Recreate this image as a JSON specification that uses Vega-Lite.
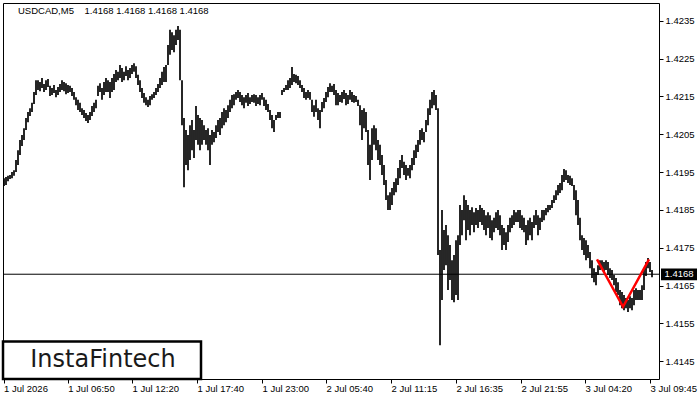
{
  "$schema": "https://vega.github.io/schema/vega-lite/v6.json",
  "width": 656,
  "height": 376,
  "autosize": "none",
  "padding": {"left": 3, "top": 3, "right": 41, "bottom": 21},
  "background": "white",
  "title": {"text": "USDCAD,M5\u00a0\u00a0\u00a0\u00a01.4168 1.4168 1.4168 1.4168", "anchor": "start", "frame": "group", "orient": "top", "offset": -17, "dx": 15, "baseline": "middle", "font": "Liberation Sans", "fontSize": 9.5, "fontWeight": "normal", "color": "#000000"},
  "config": {
    "view": {"stroke": "#000000", "strokeWidth": 1},
    "axis": {"labelFont": "Liberation Sans", "labelFontSize": 9.5, "labelColor": "#000000", "tickColor": "#000000", "domain": false, "grid": false, "title": null}
  },
  "datasets": {
    "bars": [
      {"n":1,"h":1.41934,"l":1.41913},{"n":3,"h":1.41937,"l":1.41916},{"n":5,"h":1.41940,"l":1.41926},{"n":7,"h":1.41942,"l":1.41932},
      {"n":9,"h":1.41950,"l":1.41934},{"n":11,"h":1.41955,"l":1.41940},{"n":13,"h":1.41982,"l":1.41950},{"n":15,"h":1.42008,"l":1.41969},
      {"n":17,"h":1.42035,"l":1.41995},{"n":19,"h":1.42048,"l":1.42019},{"n":21,"h":1.42066,"l":1.42035},{"n":23,"h":1.42093,"l":1.42061},
      {"n":25,"h":1.42109,"l":1.42082},{"n":27,"h":1.42119,"l":1.42098},{"n":29,"h":1.42133,"l":1.42109},{"n":31,"h":1.42162,"l":1.42130},
      {"n":33,"h":1.42193,"l":1.42154},{"n":35,"h":1.42193,"l":1.42167},{"n":37,"h":1.42188,"l":1.42164},{"n":39,"h":1.42199,"l":1.42172},
      {"n":41,"h":1.42183,"l":1.42162},{"n":43,"h":1.42193,"l":1.42167},{"n":45,"h":1.42196,"l":1.42175},{"n":47,"h":1.42178,"l":1.42151},
      {"n":49,"h":1.42172,"l":1.42154},{"n":51,"h":1.42180,"l":1.42159},{"n":53,"h":1.42167,"l":1.42148},{"n":55,"h":1.42175,"l":1.42154},
      {"n":57,"h":1.42183,"l":1.42162},{"n":59,"h":1.42193,"l":1.42167},{"n":61,"h":1.42188,"l":1.42164},{"n":63,"h":1.42185,"l":1.42156},
      {"n":65,"h":1.42180,"l":1.42159},{"n":67,"h":1.42178,"l":1.42162},{"n":69,"h":1.42172,"l":1.42151},{"n":71,"h":1.42162,"l":1.42141},
      {"n":73,"h":1.42148,"l":1.42127},{"n":75,"h":1.42141,"l":1.42114},{"n":77,"h":1.42133,"l":1.42109},{"n":79,"h":1.42119,"l":1.42101},
      {"n":81,"h":1.42114,"l":1.42093},{"n":83,"h":1.42106,"l":1.42085},{"n":85,"h":1.42101,"l":1.42080},{"n":87,"h":1.42109,"l":1.42088},
      {"n":89,"h":1.42125,"l":1.42098},{"n":91,"h":1.42133,"l":1.42109},{"n":93,"h":1.42141,"l":1.42119},{"n":95,"h":1.42178,"l":1.42151},
      {"n":97,"h":1.42185,"l":1.42162},{"n":99,"h":1.42172,"l":1.42141},{"n":101,"h":1.42188,"l":1.42154},{"n":103,"h":1.42199,"l":1.42162},
      {"n":105,"h":1.42193,"l":1.42162},{"n":107,"h":1.42188,"l":1.42146},{"n":109,"h":1.42199,"l":1.42162},{"n":111,"h":1.42209,"l":1.42167},
      {"n":113,"h":1.42220,"l":1.42188},{"n":115,"h":1.42215,"l":1.42193},{"n":117,"h":1.42233,"l":1.42199},{"n":119,"h":1.42225,"l":1.42188},
      {"n":121,"h":1.42215,"l":1.42193},{"n":123,"h":1.42230,"l":1.42204},{"n":125,"h":1.42220,"l":1.42193},{"n":127,"h":1.42225,"l":1.42199},
      {"n":129,"h":1.42233,"l":1.42209},{"n":131,"h":1.42238,"l":1.42215},{"n":133,"h":1.42230,"l":1.42199},{"n":135,"h":1.42207,"l":1.42180},
      {"n":137,"h":1.42193,"l":1.42162},{"n":139,"h":1.42172,"l":1.42146},{"n":141,"h":1.42159,"l":1.42133},{"n":143,"h":1.42148,"l":1.42127},
      {"n":145,"h":1.42141,"l":1.42122},{"n":147,"h":1.42151,"l":1.42127},{"n":149,"h":1.42156,"l":1.42141},{"n":151,"h":1.42162,"l":1.42146},
      {"n":153,"h":1.42172,"l":1.42154},{"n":155,"h":1.42183,"l":1.42162},{"n":157,"h":1.42199,"l":1.42172},{"n":159,"h":1.42215,"l":1.42180},
      {"n":161,"h":1.42228,"l":1.42188},{"n":163,"h":1.42233,"l":1.42188},{"n":165,"h":1.42286,"l":1.42233},{"n":167,"h":1.42326,"l":1.42260},
      {"n":169,"h":1.42320,"l":1.42273},{"n":171,"h":1.42312,"l":1.42267},{"n":173,"h":1.42326,"l":1.42286},{"n":175,"h":1.42336,"l":1.42299},
      {"n":177,"h":1.42326,"l":1.42193},{"n":179,"h":1.42193,"l":1.42074},{"n":181,"h":1.42093,"l":1.41910},{"n":183,"h":1.42061,"l":1.41969},
      {"n":185,"h":1.42048,"l":1.41955},{"n":187,"h":1.42074,"l":1.41982},{"n":189,"h":1.42088,"l":1.42008},{"n":191,"h":1.42061,"l":1.41987},
      {"n":193,"h":1.42125,"l":1.42035},{"n":195,"h":1.42101,"l":1.42022},{"n":197,"h":1.42093,"l":1.42008},{"n":199,"h":1.42088,"l":1.42022},
      {"n":201,"h":1.42074,"l":1.42035},{"n":203,"h":1.42061,"l":1.42022},{"n":205,"h":1.42066,"l":1.42008},{"n":207,"h":1.42048,"l":1.41969},
      {"n":209,"h":1.42061,"l":1.42022},{"n":211,"h":1.42056,"l":1.42029},{"n":213,"h":1.42074,"l":1.42040},{"n":215,"h":1.42088,"l":1.42056},
      {"n":217,"h":1.42093,"l":1.42048},{"n":219,"h":1.42109,"l":1.42066},{"n":221,"h":1.42119,"l":1.42074},{"n":223,"h":1.42114,"l":1.42082},
      {"n":225,"h":1.42127,"l":1.42093},{"n":227,"h":1.42141,"l":1.42109},{"n":229,"h":1.42154,"l":1.42119},{"n":231,"h":1.42156,"l":1.42127},
      {"n":233,"h":1.42162,"l":1.42141},{"n":235,"h":1.42167,"l":1.42146},{"n":237,"h":1.42162,"l":1.42135},{"n":239,"h":1.42154,"l":1.42127},
      {"n":241,"h":1.42148,"l":1.42119},{"n":243,"h":1.42154,"l":1.42133},{"n":245,"h":1.42159,"l":1.42125},{"n":247,"h":1.42148,"l":1.42130},
      {"n":249,"h":1.42154,"l":1.42135},{"n":251,"h":1.42156,"l":1.42133},{"n":253,"h":1.42154,"l":1.42125},{"n":255,"h":1.42148,"l":1.42130},
      {"n":257,"h":1.42154,"l":1.42127},{"n":259,"h":1.42159,"l":1.42141},{"n":261,"h":1.42148,"l":1.42125},{"n":263,"h":1.42141,"l":1.42114},
      {"n":265,"h":1.42130,"l":1.42109},{"n":267,"h":1.42114,"l":1.42088},{"n":269,"h":1.42101,"l":1.42066},{"n":271,"h":1.42088,"l":1.42056},
      {"n":273,"h":1.42101,"l":1.42088},{"n":275,"h":1.42109,"l":1.42093},{"n":277,"h":1.42109,"l":1.42093},{"n":279,"h":1.42167,"l":1.42154},
      {"n":281,"h":1.42172,"l":1.42162},{"n":283,"h":1.42180,"l":1.42167},{"n":285,"h":1.42193,"l":1.42167},{"n":287,"h":1.42199,"l":1.42172},
      {"n":289,"h":1.42228,"l":1.42180},{"n":291,"h":1.42209,"l":1.42188},{"n":293,"h":1.42207,"l":1.42185},{"n":295,"h":1.42204,"l":1.42180},
      {"n":297,"h":1.42193,"l":1.42172},{"n":299,"h":1.42180,"l":1.42162},{"n":301,"h":1.42172,"l":1.42146},{"n":303,"h":1.42162,"l":1.42141},
      {"n":305,"h":1.42167,"l":1.42146},{"n":307,"h":1.42162,"l":1.42141},{"n":309,"h":1.42141,"l":1.42109},{"n":311,"h":1.42127,"l":1.42096},
      {"n":313,"h":1.42141,"l":1.42109},{"n":315,"h":1.42119,"l":1.42088},{"n":317,"h":1.42114,"l":1.42066},{"n":319,"h":1.42135,"l":1.42109},
      {"n":321,"h":1.42146,"l":1.42119},{"n":323,"h":1.42162,"l":1.42135},{"n":325,"h":1.42175,"l":1.42148},{"n":327,"h":1.42185,"l":1.42162},
      {"n":329,"h":1.42178,"l":1.42162},{"n":331,"h":1.42183,"l":1.42154},{"n":333,"h":1.42167,"l":1.42127},{"n":335,"h":1.42159,"l":1.42127},
      {"n":337,"h":1.42154,"l":1.42135},{"n":339,"h":1.42162,"l":1.42133},{"n":341,"h":1.42167,"l":1.42143},{"n":343,"h":1.42159,"l":1.42127},
      {"n":345,"h":1.42154,"l":1.42130},{"n":347,"h":1.42167,"l":1.42141},{"n":349,"h":1.42162,"l":1.42135},{"n":351,"h":1.42154,"l":1.42133},
      {"n":353,"h":1.42151,"l":1.42135},{"n":355,"h":1.42141,"l":1.42125},{"n":357,"h":1.42127,"l":1.42074},{"n":359,"h":1.42114,"l":1.42035},
      {"n":361,"h":1.42119,"l":1.42066},{"n":363,"h":1.42109,"l":1.42056},{"n":365,"h":1.42061,"l":1.41969},{"n":367,"h":1.42022,"l":1.41929},
      {"n":369,"h":1.42066,"l":1.41982},{"n":371,"h":1.42074,"l":1.42022},{"n":373,"h":1.42066,"l":1.42008},{"n":375,"h":1.42035,"l":1.41982},
      {"n":377,"h":1.42022,"l":1.41969},{"n":379,"h":1.41995,"l":1.41942},{"n":381,"h":1.41969,"l":1.41916},{"n":383,"h":1.41929,"l":1.41876},
      {"n":385,"h":1.41889,"l":1.41850},{"n":387,"h":1.41897,"l":1.41850},{"n":389,"h":1.41908,"l":1.41863},{"n":391,"h":1.41924,"l":1.41889},
      {"n":393,"h":1.41934,"l":1.41897},{"n":395,"h":1.41961,"l":1.41916},{"n":397,"h":1.41982,"l":1.41934},{"n":399,"h":1.41995,"l":1.41961},
      {"n":401,"h":1.41977,"l":1.41942},{"n":403,"h":1.41969,"l":1.41929},{"n":405,"h":1.41961,"l":1.41940},{"n":407,"h":1.41969,"l":1.41934},
      {"n":409,"h":1.41987,"l":1.41955},{"n":411,"h":1.42008,"l":1.41969},{"n":413,"h":1.42022,"l":1.41987},{"n":415,"h":1.42035,"l":1.42003},
      {"n":417,"h":1.42061,"l":1.42022},{"n":419,"h":1.42066,"l":1.42035},{"n":421,"h":1.42056,"l":1.42029},{"n":423,"h":1.42088,"l":1.42056},
      {"n":425,"h":1.42119,"l":1.42074},{"n":427,"h":1.42141,"l":1.42101},{"n":429,"h":1.42162,"l":1.42119},{"n":431,"h":1.42167,"l":1.42127},
      {"n":433,"h":1.42154,"l":1.42114},{"n":435,"h":1.42119,"l":1.41731},{"n":437,"h":1.41744,"l":1.41492},{"n":439,"h":1.41850,"l":1.41612},
      {"n":441,"h":1.41797,"l":1.41691},{"n":443,"h":1.41810,"l":1.41704},{"n":445,"h":1.41783,"l":1.41638},{"n":447,"h":1.41757,"l":1.41665},
      {"n":449,"h":1.41717,"l":1.41612},{"n":451,"h":1.41731,"l":1.41606},{"n":453,"h":1.41770,"l":1.41625},{"n":455,"h":1.41783,"l":1.41612},
      {"n":457,"h":1.41863,"l":1.41757},{"n":459,"h":1.41850,"l":1.41783},{"n":461,"h":1.41889,"l":1.41823},{"n":463,"h":1.41876,"l":1.41770},
      {"n":465,"h":1.41863,"l":1.41797},{"n":467,"h":1.41850,"l":1.41783},{"n":469,"h":1.41857,"l":1.41810},{"n":471,"h":1.41844,"l":1.41791},
      {"n":473,"h":1.41855,"l":1.41810},{"n":475,"h":1.41850,"l":1.41802},{"n":477,"h":1.41863,"l":1.41818},{"n":479,"h":1.41855,"l":1.41810},
      {"n":481,"h":1.41850,"l":1.41797},{"n":483,"h":1.41836,"l":1.41783},{"n":485,"h":1.41844,"l":1.41802},{"n":487,"h":1.41836,"l":1.41776},
      {"n":489,"h":1.41823,"l":1.41770},{"n":491,"h":1.41829,"l":1.41791},{"n":493,"h":1.41844,"l":1.41802},{"n":495,"h":1.41850,"l":1.41797},
      {"n":497,"h":1.41836,"l":1.41783},{"n":499,"h":1.41810,"l":1.41744},{"n":501,"h":1.41802,"l":1.41757},{"n":503,"h":1.41791,"l":1.41744},
      {"n":505,"h":1.41810,"l":1.41765},{"n":507,"h":1.41829,"l":1.41791},{"n":509,"h":1.41836,"l":1.41802},{"n":511,"h":1.41850,"l":1.41810},
      {"n":513,"h":1.41844,"l":1.41818},{"n":515,"h":1.41850,"l":1.41818},{"n":517,"h":1.41850,"l":1.41802},{"n":519,"h":1.41836,"l":1.41797},
      {"n":521,"h":1.41829,"l":1.41791},{"n":523,"h":1.41810,"l":1.41757},{"n":525,"h":1.41823,"l":1.41770},{"n":527,"h":1.41829,"l":1.41783},
      {"n":529,"h":1.41818,"l":1.41770},{"n":531,"h":1.41836,"l":1.41802},{"n":533,"h":1.41850,"l":1.41810},{"n":535,"h":1.41836,"l":1.41783},
      {"n":537,"h":1.41829,"l":1.41797},{"n":539,"h":1.41850,"l":1.41818},{"n":541,"h":1.41850,"l":1.41823},{"n":543,"h":1.41855,"l":1.41836},
      {"n":545,"h":1.41863,"l":1.41844},{"n":547,"h":1.41863,"l":1.41850},{"n":549,"h":1.41876,"l":1.41855},{"n":551,"h":1.41889,"l":1.41868},
      {"n":553,"h":1.41902,"l":1.41876},{"n":555,"h":1.41916,"l":1.41889},{"n":557,"h":1.41921,"l":1.41895},{"n":559,"h":1.41942,"l":1.41902},
      {"n":561,"h":1.41958,"l":1.41924},{"n":563,"h":1.41955,"l":1.41929},{"n":565,"h":1.41942,"l":1.41921},{"n":567,"h":1.41940,"l":1.41916},
      {"n":569,"h":1.41934,"l":1.41913},{"n":571,"h":1.41916,"l":1.41876},{"n":573,"h":1.41902,"l":1.41836},{"n":575,"h":1.41876,"l":1.41810},
      {"n":577,"h":1.41829,"l":1.41770},{"n":579,"h":1.41783,"l":1.41744},{"n":581,"h":1.41776,"l":1.41731},{"n":583,"h":1.41770,"l":1.41717},
      {"n":585,"h":1.41757,"l":1.41723},{"n":587,"h":1.41739,"l":1.41696},{"n":589,"h":1.41717,"l":1.41670},{"n":591,"h":1.41696,"l":1.41659},
      {"n":593,"h":1.41686,"l":1.41651},{"n":595,"h":1.41704,"l":1.41678},{"n":597,"h":1.41717,"l":1.41691},{"n":599,"h":1.41717,"l":1.41696},
      {"n":601,"h":1.41712,"l":1.41686},{"n":603,"h":1.41717,"l":1.41691},{"n":605,"h":1.41712,"l":1.41678},{"n":607,"h":1.41696,"l":1.41670},
      {"n":609,"h":1.41691,"l":1.41665},{"n":611,"h":1.41678,"l":1.41651},{"n":613,"h":1.41670,"l":1.41633},{"n":615,"h":1.41659,"l":1.41625},
      {"n":617,"h":1.41638,"l":1.41598},{"n":619,"h":1.41633,"l":1.41590},{"n":621,"h":1.41625,"l":1.41585},{"n":623,"h":1.41617,"l":1.41590},
      {"n":625,"h":1.41612,"l":1.41580},{"n":627,"h":1.41622,"l":1.41590},{"n":629,"h":1.41617,"l":1.41585},{"n":631,"h":1.41638,"l":1.41598},
      {"n":633,"h":1.41643,"l":1.41612},{"n":635,"h":1.41638,"l":1.41612},{"n":637,"h":1.41638,"l":1.41612},{"n":639,"h":1.41651,"l":1.41612},
      {"n":641,"h":1.41696,"l":1.41638},{"n":643,"h":1.41712,"l":1.41675},{"n":645,"h":1.41723,"l":1.41696},{"n":647,"h":1.41712,"l":1.41686},
      {"n":649,"h":1.41691,"l":1.41672}
    ],
    "pattern": [
      {"n":594,"p":1.41719},
      {"n":620,"p":1.41594},
      {"n":646,"p":1.41719}
    ]
  },
  "layer": [
    {
      "data": {"name": "bars"},
      "mark": {"type": "rule", "strokeWidth": 1.7, "color": "#000000"},
      "encoding": {
        "x": {"field": "n", "type": "quantitative",
          "scale": {"domain": [0, 656], "nice": false, "zero": false},
          "axis": {"orient": "bottom", "values": [0.6, 64.7, 129, 194, 259, 323, 388, 453, 518, 582, 647],
            "labelExpr": "datum.value < 30 ? '1 Jul 2026' : datum.value < 100 ? '1 Jul 06:50' : datum.value < 160 ? '1 Jul 12:20' : datum.value < 225 ? '1 Jul 17:40' : datum.value < 290 ? '1 Jul 23:00' : datum.value < 355 ? '2 Jul 05:40' : datum.value < 420 ? '2 Jul 11:15' : datum.value < 485 ? '2 Jul 16:35' : datum.value < 550 ? '2 Jul 21:55' : datum.value < 615 ? '3 Jul 04:20' : '3 Jul 09:45'",
            "labelAlign": "left", "labelBaseline": "top", "tickSize": 4, "labelPadding": 0, "labelOverlap": false, "labelFlush": false}},
        "y": {"field": "h", "type": "quantitative",
          "scale": {"domain": [1.41403, 1.42397], "nice": false, "zero": false},
          "axis": {"orient": "right", "values": [1.4145, 1.4155, 1.4165, 1.4175, 1.4185, 1.4195, 1.4205, 1.4215, 1.4225, 1.4235],
            "format": ".4f", "tickSize": 4, "labelPadding": 2, "labelOverlap": false, "labelFlush": false}},
        "y2": {"field": "l"}
      }
    },
    {
      "data": {"values": [{}]},
      "mark": {"type": "rule", "color": "#000000", "strokeWidth": 1},
      "encoding": {"y": {"datum": 1.4168}}
    },
    {
      "data": {"name": "pattern"},
      "mark": {"type": "line", "color": "#ff0000", "strokeWidth": 2.5},
      "encoding": {
        "x": {"field": "n", "type": "quantitative"},
        "y": {"field": "p", "type": "quantitative"}
      }
    },
    {
      "data": {"values": [{}]},
      "mark": {"type": "rect", "fill": "#ffffff", "stroke": "#000000", "strokeWidth": 2.5},
      "encoding": {
        "x": {"datum": 0}, "x2": {"datum": 198},
        "y": {"datum": 1.41403}, "y2": {"datum": 1.41502}
      }
    },
    {
      "data": {"values": [{}]},
      "mark": {"type": "text", "text": "InstaFintech", "font": "DejaVu Sans", "fontSize": 24, "color": "#1a1a1a", "align": "center", "baseline": "middle"},
      "encoding": {"x": {"datum": 100}, "y": {"datum": 1.41454}}
    },
    {
      "data": {"values": [{}]},
      "mark": {"type": "rect", "fill": "#000000"},
      "encoding": {
        "x": {"datum": 658}, "x2": {"datum": 694},
        "y": {"datum": 1.41664}, "y2": {"datum": 1.41695}
      }
    },
    {
      "data": {"values": [{}]},
      "mark": {"type": "text", "text": "1.4168", "font": "Liberation Sans", "fontSize": 9.5, "color": "#ffffff", "align": "center", "baseline": "middle"},
      "encoding": {"x": {"datum": 676}, "y": {"datum": 1.4168}}
    }
  ]
}
